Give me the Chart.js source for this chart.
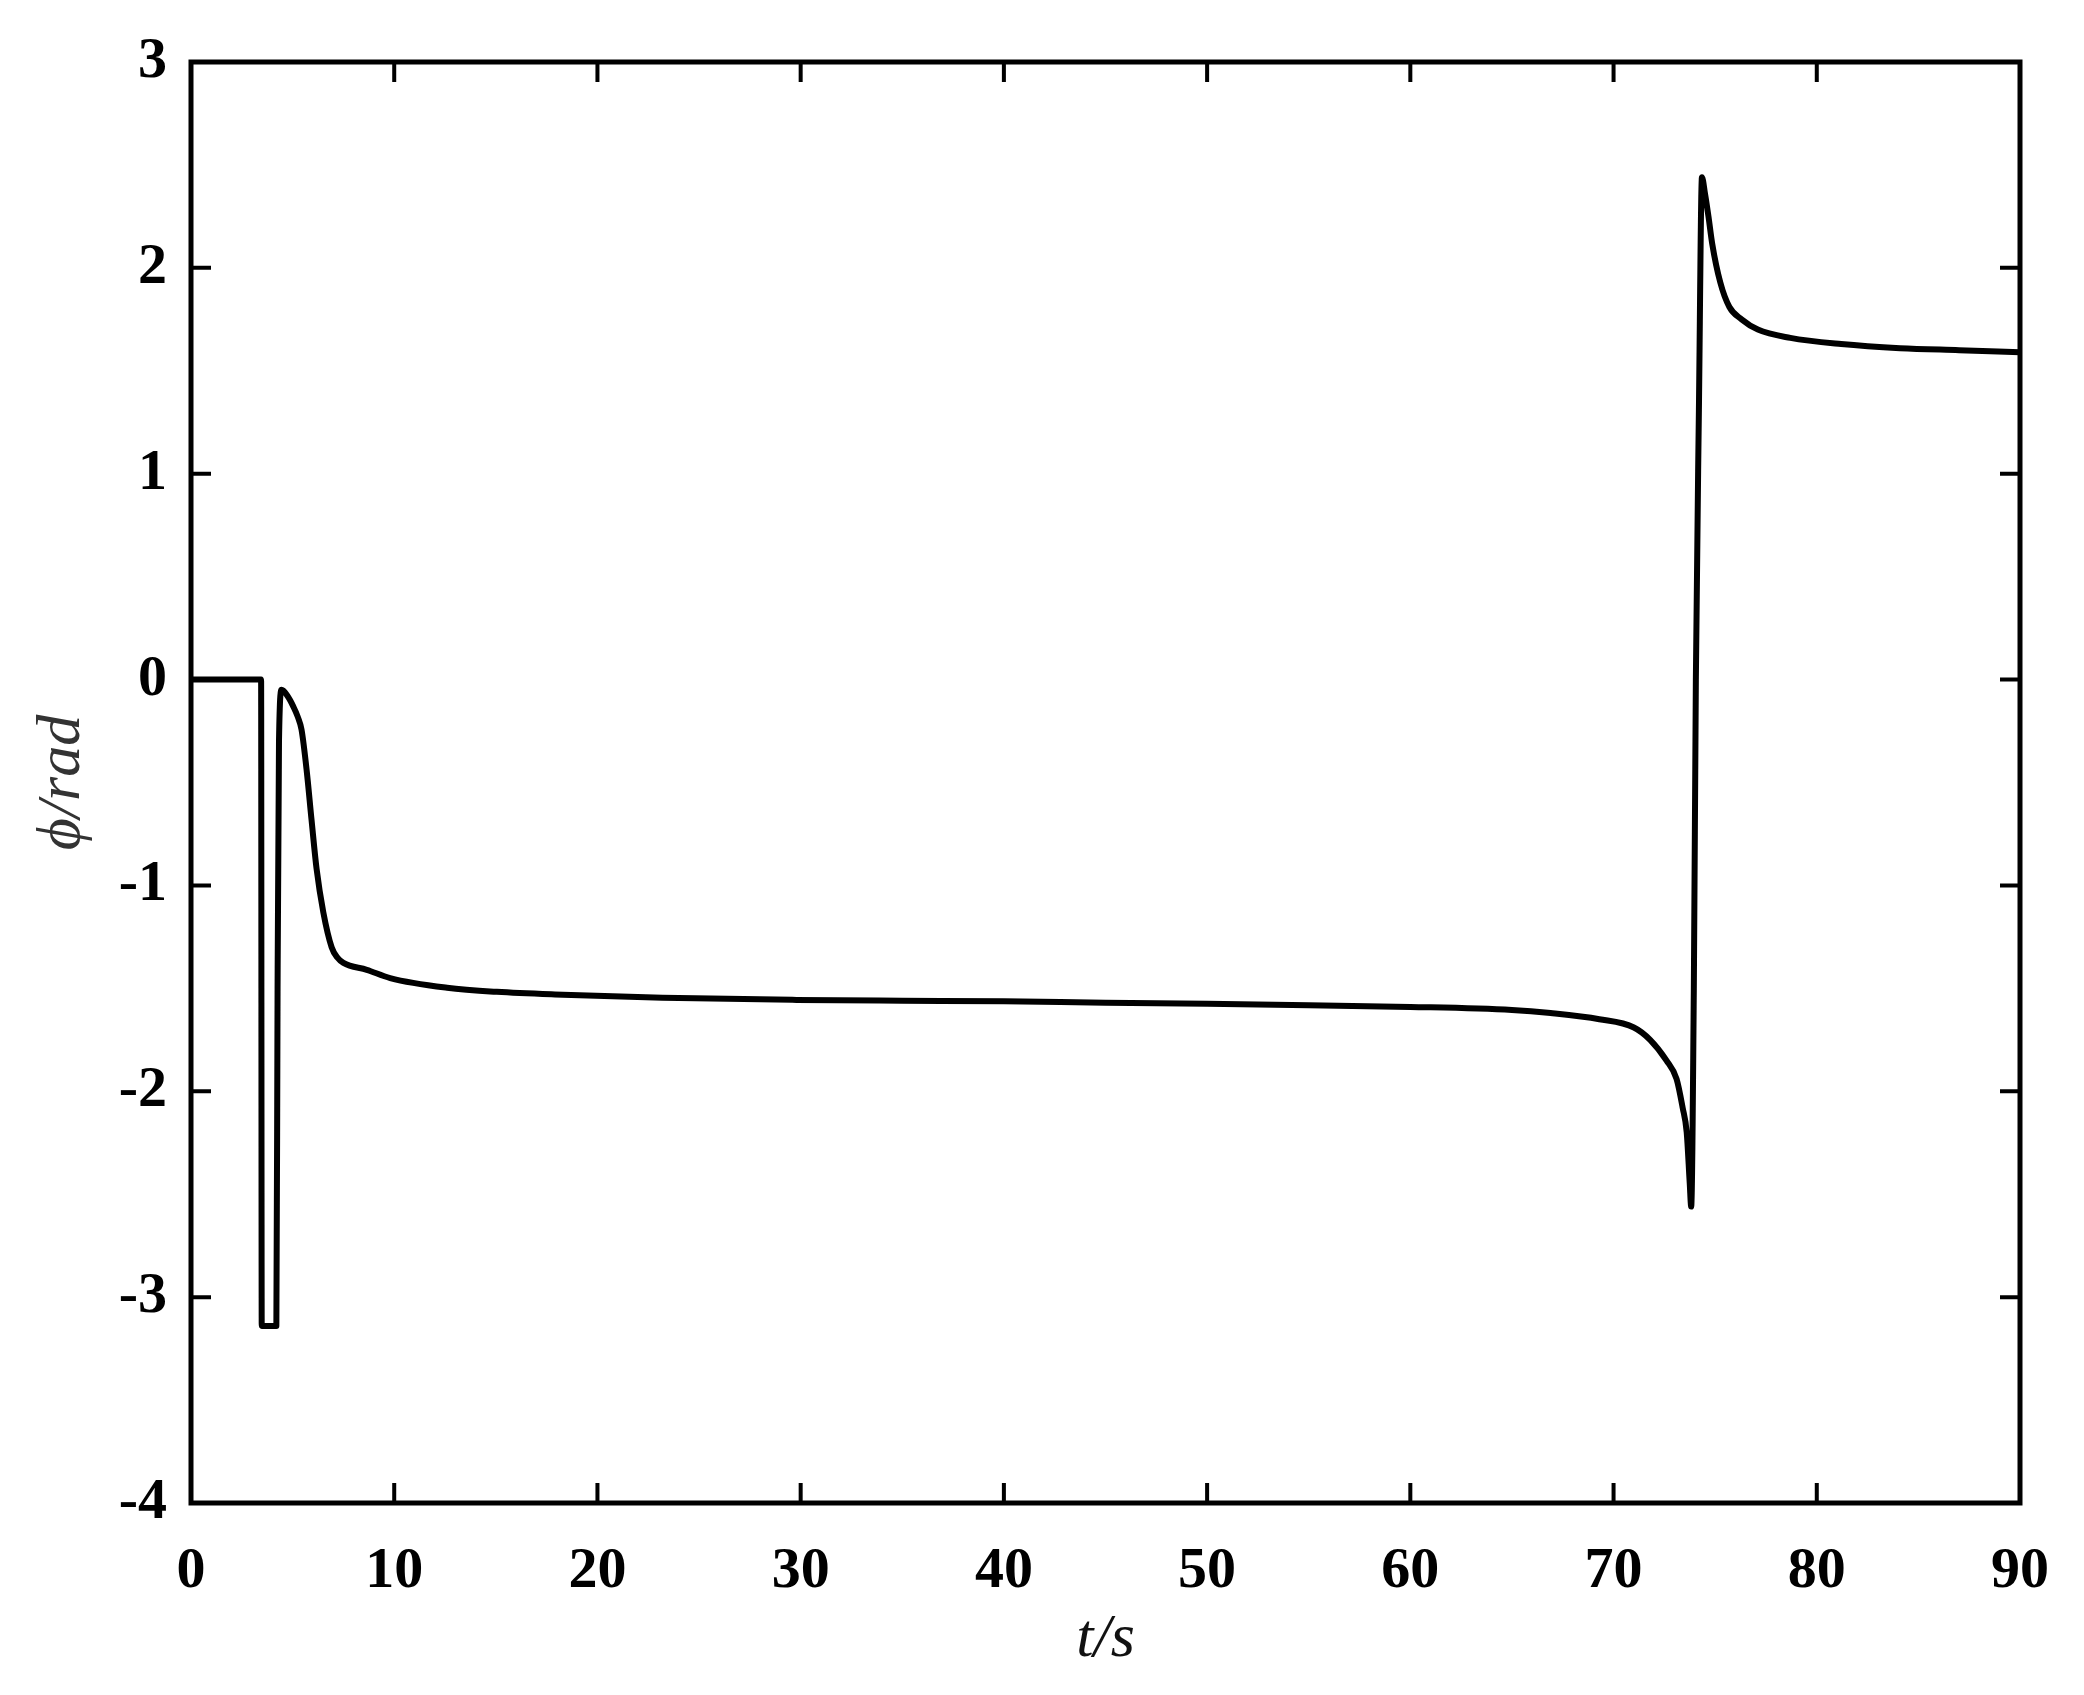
<!DOCTYPE html>
<html>
<head>
<meta charset="utf-8">
<script src="https://cdn.jsdelivr.net/npm/chart.js@4.4.1/dist/chart.umd.min.js"></script>
<style>
  html, body { margin: 0; padding: 0; background: #fff; }
  #wrap { width: 2084px; height: 1695px; }
</style>
</head>
<body>
<div id="wrap"><canvas id="phiChart" width="2084" height="1695"></canvas></div>
<script>
// time samples (s) and roll angle phi (rad)
var times = [0, 3.45, 3.48, 4.2, 4.26, 4.33, 4.46, 4.75, 5.03, 5.25, 5.44, 5.69, 5.93, 6.18, 6.51, 6.92, 7.2, 7.5,
  8.65, 9.8, 12.6, 15.05, 18.3, 23.2, 29.8, 35, 40, 45, 50, 55, 60, 65, 66.9, 69.3, 71.0,
  71.8, 72.6, 73.1, 73.4, 73.6, 73.75, 73.82, 73.95, 74.05, 74.2, 74.35, 74.5, 74.67, 74.85,
  75.25, 75.7, 76.3, 77.1, 78.7, 81.2, 84.1, 87, 90];
var phi = [0, 0, -3.14, -3.14, -1.5, -0.3, -0.05, -0.08, -0.13, -0.18, -0.244, -0.44, -0.68, -0.92, -1.13, -1.30, -1.35, -1.376,
  -1.41, -1.45, -1.497, -1.517, -1.531, -1.546, -1.556, -1.56, -1.563, -1.57, -1.575, -1.582, -1.59, -1.605, -1.62, -1.65, -1.69,
  -1.75, -1.85, -1.94, -2.08, -2.2, -2.45, -2.56, -1.5, 0, 1.31, 2.44, 2.36, 2.25, 2.12,
  1.93, 1.81, 1.75, 1.70, 1.66, 1.63, 1.61, 1.60, 1.59];
var xTicks = [0, 10, 20, 30, 40, 50, 60, 70, 80, 90];
var yTicks = [-4, -3, -2, -1, 0, 1, 2, 3];

var points = times.map(function (t, i) { return { x: t, y: phi[i] }; });

// box around the plot with inward ticks on all four sides
var frameTicks = {
  id: 'frameTicks',
  afterDraw: function (chart) {
    var ctx = chart.ctx, a = chart.chartArea;
    var xs = chart.scales.x, ys = chart.scales.y;
    var len = 20;
    ctx.save();
    ctx.strokeStyle = '#000';
    ctx.lineWidth = 4;
    ctx.beginPath();
    xTicks.forEach(function (v) {
      var px = xs.getPixelForValue(v);
      ctx.moveTo(px, a.bottom); ctx.lineTo(px, a.bottom - len);
      ctx.moveTo(px, a.top); ctx.lineTo(px, a.top + len);
    });
    yTicks.forEach(function (v) {
      var py = ys.getPixelForValue(v);
      ctx.moveTo(a.left, py); ctx.lineTo(a.left + len, py);
      ctx.moveTo(a.right, py); ctx.lineTo(a.right - len, py);
    });
    ctx.stroke();
    ctx.lineWidth = 5;
    ctx.strokeRect(a.left, a.top, a.right - a.left, a.bottom - a.top);
    ctx.restore();
  }
};

var tickFont = { family: '"Liberation Serif", "Times New Roman", serif', size: 58, weight: 'bold' };
var titleFont = { family: '"Liberation Serif", "Times New Roman", serif', size: 62, style: 'italic' };

new Chart(document.getElementById('phiChart').getContext('2d'), {
  type: 'line',
  data: {
    datasets: [{
      data: points,
      borderColor: '#000',
      borderWidth: 6,
      borderJoinStyle: 'round',
      pointRadius: 0,
      cubicInterpolationMode: 'monotone',
      fill: false
    }]
  },
  options: {
    responsive: false,
    animation: false,
    devicePixelRatio: 1,
    layout: { padding: { left: 0, top: 62, right: 64, bottom: 0 } },
    plugins: { legend: { display: false }, tooltip: { enabled: false } },
    scales: {
      x: {
        type: 'linear',
        min: 0, max: 90,
        afterBuildTicks: function (s) { s.ticks = xTicks.map(function (v) { return { value: v }; }); },
        afterFit: function (s) { s.height = 192; },
        grid: { display: false, drawTicks: false },
        border: { display: false },
        ticks: { color: '#000', font: tickFont, padding: 34, maxRotation: 0 },
        title: { display: true, text: 't/s', color: '#111', font: titleFont, padding: { top: 0, bottom: 18 } }
      },
      y: {
        type: 'linear',
        min: -4, max: 3,
        afterBuildTicks: function (s) { s.ticks = yTicks.map(function (v) { return { value: v }; }); },
        afterFit: function (s) { s.width = 191; },
        grid: { display: false, drawTicks: false },
        border: { display: false },
        ticks: { color: '#000', font: tickFont, padding: 24 },
        title: { display: true, text: 'ϕ/rad', color: '#333', font: titleFont, padding: { top: 26, bottom: 0 } }
      }
    }
  },
  plugins: [frameTicks]
});
</script>
</body>
</html>
